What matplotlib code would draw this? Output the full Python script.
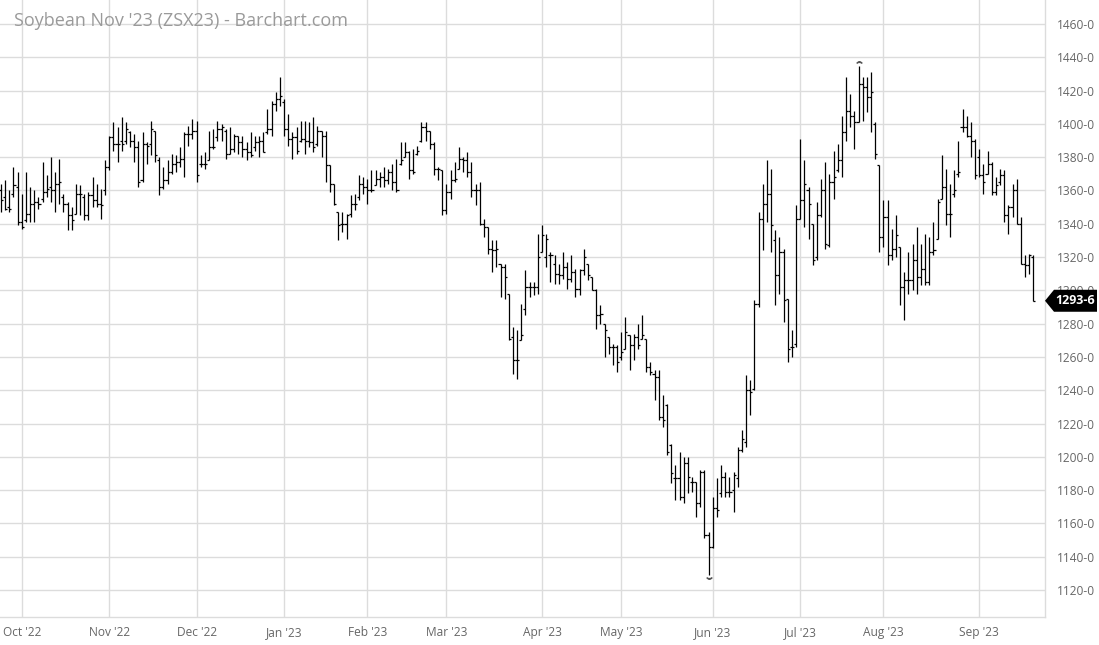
import matplotlib
matplotlib.use("Agg")
import matplotlib.pyplot as plt
from matplotlib.patches import Polygon
from matplotlib.transforms import IdentityTransform
import numpy as np

title = "Soybean Nov '23 (ZSX23) - Barchart.com"
month_labels = ["Oct '22", "Nov '22", "Dec '22", "Jan '23", "Feb '23", "Mar '23",
                "Apr '23", "May '23", "Jun '23", "Jul '23", "Aug '23", "Sep '23"]
month_start_idx = [5, 26, 47, 68, 88, 107, 130, 149, 171, 192, 212, 235]
y_ticks = list(range(1120, 1461, 20))
last_label = "1293-6"

opens = [
    1360, 1356, 1350, 1358, 1362,
    1341, 1342, 1346, 1352, 1353, 1355, 1359, 1362, 1360, 1364, 1356, 1352, 1345, 1346, 1358, 1356, 1345, 1357, 1354, 1352, 1360,
    1374, 1392, 1388, 1390, 1390, 1395, 1390, 1386, 1366, 1388, 1388, 1396, 1378, 1362, 1366, 1371, 1376, 1377, 1379, 1394, 1394,
    1396, 1376, 1376, 1378, 1386, 1392, 1397, 1396, 1382, 1385, 1393, 1389, 1385, 1383, 1386, 1389, 1390, 1395, 1397, 1412, 1415,
    1413, 1397, 1391, 1392, 1390, 1391, 1390, 1389, 1388, 1396, 1393, 1375, 1364, 1347, 1340, 1340, 1346, 1352, 1356, 1364,
    1362, 1360, 1363, 1367, 1368, 1366, 1371, 1365, 1376, 1380, 1383, 1372, 1382, 1390, 1398, 1396, 1388, 1373, 1372,
    1348, 1359, 1366, 1373, 1379, 1378, 1371, 1360, 1360, 1340, 1338, 1325, 1324, 1316, 1314, 1298, 1272, 1258, 1270, 1289, 1302, 1302, 1302,
    1323, 1320, 1321, 1316, 1310, 1309, 1314, 1307, 1311, 1301, 1312, 1316, 1308, 1300, 1285, 1280, 1272, 1266, 1266,
    1260, 1265, 1273, 1267, 1272, 1271, 1271, 1254, 1250, 1248, 1224, 1231, 1207, 1187, 1187, 1176, 1196, 1185, 1185, 1172, 1191, 1153,
    1146, 1169, 1178, 1188, 1179, 1180, 1187, 1204, 1209, 1240, 1241, 1292, 1343, 1352, 1358, 1330, 1309, 1323, 1295, 1266, 1268,
    1343, 1354, 1360, 1340, 1320, 1345, 1360, 1327, 1365, 1372, 1378, 1395, 1408, 1405, 1401, 1424, 1422, 1416, 1400, 1375,
    1332, 1344, 1321, 1325, 1326, 1302, 1306, 1306, 1318, 1308, 1313, 1305, 1323, 1331, 1355, 1362, 1346, 1358, 1370, 1398, 1398, 1393, 1390,
    1380, 1369, 1370, 1376, 1359, 1365, 1369, 1345, 1350, 1360, 1340, 1316, 1315, 1320,
]
highs = [
    1364, 1366, 1360, 1374, 1371,
    1358, 1371, 1362, 1360, 1356, 1377, 1369, 1380, 1371, 1379, 1358, 1353, 1350, 1364, 1363, 1358, 1359, 1368, 1364, 1361, 1378,
    1393, 1401, 1398, 1404, 1401, 1396, 1394, 1390, 1395, 1389, 1402, 1396, 1380, 1374, 1378, 1382, 1381, 1386, 1395, 1399, 1403,
    1402, 1381, 1383, 1396, 1397, 1402, 1400, 1397, 1398, 1394, 1393, 1393, 1389, 1395, 1393, 1393, 1395, 1409, 1414, 1419, 1428,
    1415, 1406, 1395, 1398, 1402, 1402, 1401, 1404, 1399, 1396, 1396, 1375, 1364, 1347, 1347, 1346, 1357, 1358, 1369, 1368,
    1367, 1372, 1372, 1371, 1374, 1373, 1376, 1379, 1389, 1389, 1384, 1385, 1387, 1401, 1401, 1396, 1389, 1374, 1372,
    1364, 1372, 1377, 1386, 1380, 1383, 1377, 1364, 1365, 1343, 1338, 1330, 1330, 1316, 1316, 1298, 1278, 1276, 1292, 1312, 1305, 1305, 1334,
    1339, 1334, 1323, 1321, 1316, 1323, 1317, 1321, 1313, 1313, 1325, 1316, 1308, 1301, 1291, 1280, 1272, 1268, 1267,
    1275, 1284, 1273, 1274, 1280, 1285, 1271, 1257, 1252, 1252, 1237, 1232, 1208, 1195, 1203, 1200, 1200, 1188, 1185, 1192, 1192, 1155,
    1176, 1187, 1195, 1191, 1188, 1191, 1206, 1216, 1249, 1246, 1294, 1347, 1364, 1378, 1373, 1336, 1332, 1325, 1295, 1276, 1351,
    1391, 1378, 1362, 1340, 1353, 1367, 1377, 1370, 1384, 1388, 1405, 1428, 1418, 1408, 1435, 1428, 1428, 1431, 1401, 1375,
    1354, 1354, 1337, 1345, 1326, 1311, 1323, 1328, 1338, 1328, 1334, 1332, 1341, 1355, 1381, 1373, 1364, 1372, 1390, 1409, 1405, 1401, 1391,
    1385, 1376, 1384, 1377, 1368, 1373, 1372, 1351, 1364, 1367, 1344, 1321, 1322, 1321,
]
lows = [
    1347, 1348, 1347, 1356, 1339,
    1337, 1341, 1341, 1341, 1349, 1353, 1356, 1353, 1347, 1352, 1347, 1336, 1336, 1346, 1345, 1342, 1342, 1350, 1350, 1343, 1357,
    1372, 1384, 1377, 1384, 1388, 1386, 1377, 1362, 1365, 1376, 1381, 1377, 1357, 1361, 1364, 1370, 1371, 1374, 1368, 1387, 1391,
    1365, 1374, 1373, 1378, 1385, 1390, 1390, 1379, 1382, 1383, 1382, 1380, 1378, 1380, 1384, 1380, 1383, 1394, 1393, 1408, 1411,
    1393, 1387, 1379, 1382, 1389, 1382, 1386, 1383, 1387, 1380, 1365, 1359, 1351, 1330, 1335, 1331, 1344, 1348, 1354, 1358,
    1352, 1359, 1363, 1362, 1362, 1364, 1360, 1359, 1375, 1380, 1367, 1370, 1381, 1389, 1390, 1385, 1369, 1366, 1345,
    1346, 1355, 1365, 1373, 1371, 1368, 1356, 1351, 1339, 1332, 1322, 1311, 1314, 1296, 1295, 1270, 1250, 1247, 1270, 1285, 1296, 1297, 1298,
    1323, 1314, 1305, 1304, 1304, 1307, 1301, 1305, 1296, 1297, 1309, 1306, 1300, 1277, 1280, 1260, 1262, 1255, 1251,
    1258, 1265, 1252, 1258, 1265, 1271, 1251, 1249, 1234, 1222, 1218, 1201, 1184, 1174, 1174, 1172, 1178, 1179, 1164, 1170, 1151, 1129,
    1145, 1164, 1176, 1176, 1176, 1167, 1182, 1203, 1206, 1225, 1240, 1290, 1324, 1341, 1323, 1291, 1298, 1281, 1257, 1260, 1266,
    1343, 1338, 1331, 1315, 1318, 1344, 1325, 1326, 1355, 1371, 1368, 1390, 1398, 1385, 1401, 1402, 1407, 1395, 1379, 1323,
    1326, 1315, 1318, 1320, 1291, 1282, 1298, 1300, 1298, 1303, 1303, 1303, 1321, 1331, 1355, 1339, 1332, 1356, 1368, 1395, 1392, 1380, 1367,
    1368, 1358, 1370, 1357, 1357, 1363, 1341, 1334, 1344, 1340, 1316, 1308, 1310, 1293.75,
]
closes = [
    1354, 1349, 1349, 1363, 1341,
    1338, 1346, 1352, 1353, 1352, 1359, 1361, 1360, 1364, 1365, 1352, 1345, 1342, 1358, 1358, 1345, 1357, 1354, 1352, 1351, 1374,
    1392, 1388, 1388, 1388, 1397, 1390, 1386, 1365, 1388, 1387, 1397, 1381, 1362, 1366, 1371, 1376, 1377, 1379, 1394, 1394, 1396,
    1369, 1376, 1376, 1386, 1386, 1397, 1398, 1382, 1385, 1393, 1389, 1385, 1383, 1381, 1389, 1390, 1383, 1397, 1412, 1415, 1417,
    1397, 1391, 1392, 1384, 1391, 1390, 1389, 1386, 1396, 1393, 1375, 1364, 1352, 1339, 1340, 1345, 1352, 1352, 1364, 1362,
    1360, 1360, 1367, 1368, 1366, 1371, 1365, 1360, 1378, 1383, 1372, 1371, 1384, 1398, 1396, 1388, 1373, 1373, 1348,
    1359, 1366, 1367, 1379, 1378, 1371, 1360, 1360, 1340, 1338, 1325, 1324, 1325, 1314, 1308, 1271, 1258, 1258, 1273, 1302, 1302, 1302, 1320,
    1333, 1331, 1321, 1310, 1309, 1314, 1307, 1311, 1301, 1312, 1320, 1309, 1300, 1285, 1286, 1276, 1266, 1266, 1257,
    1263, 1275, 1267, 1272, 1267, 1273, 1254, 1251, 1248, 1224, 1222, 1203, 1190, 1187, 1176, 1196, 1188, 1185, 1172, 1191, 1153, 1146,
    1169, 1168, 1188, 1179, 1179, 1189, 1204, 1211, 1240, 1239, 1292, 1343, 1352, 1358, 1339, 1309, 1323, 1294, 1265, 1266, 1343,
    1354, 1364, 1352, 1318, 1345, 1360, 1328, 1365, 1368, 1378, 1395, 1408, 1405, 1401, 1424, 1422, 1416, 1419, 1382, 1332,
    1344, 1321, 1325, 1333, 1302, 1306, 1306, 1318, 1308, 1313, 1305, 1323, 1324, 1353, 1362, 1346, 1346, 1360, 1371, 1398, 1393, 1390, 1369,
    1369, 1365, 1376, 1359, 1363, 1369, 1345, 1350, 1360, 1340, 1316, 1315, 1321, 1293.75,
]

W, H = 1099, 645
FONT = ["Open Sans", "DejaVu Sans"]
plt.rcParams["font.family"] = FONT

fig = plt.figure(figsize=(W / 100, H / 100), dpi=100)
fig.patch.set_facecolor("white")
ax = fig.add_axes([0, 28 / H, 1045 / W, 617 / H])
ax.set_facecolor("white")

x = np.arange(len(closes))
ax.set_xlim(-0.24, 250.8)
ax.set_ylim(1103.8, 1474.4)

# grid
ax.set_xticks(month_start_idx)
ax.set_xticklabels(month_labels)
ax.set_yticks(y_ticks)
ax.set_yticklabels([f"{v}-0" for v in y_ticks])
ax.yaxis.tick_right()
ax.grid(True, color="#dcdcdc", linewidth=1.0)
ax.set_axisbelow(True)
ax.tick_params(axis="both", length=0, labelsize=8.6, labelcolor="#666666")
ax.tick_params(axis="x", pad=6.5)
ax.tick_params(axis="y", pad=8.5)
for s in ["top", "left"]:
    ax.spines[s].set_visible(False)
for s in ["right", "bottom"]:
    ax.spines[s].set_color("#dcdcdc")
    ax.spines[s].set_linewidth(1.0)

# OHLC bars
tick = 0.5
lw = 0.9
ax.vlines(x, lows, highs, color="black", linewidth=lw, zorder=3)
ax.hlines(opens, x - tick, x, color="black", linewidth=lw, zorder=3)
ax.hlines(closes, x, x + tick, color="black", linewidth=lw, zorder=3)

# high / low markers
i_hi = int(np.argmax(highs))
i_lo = int(np.argmin(lows))
ax.plot([i_hi], [highs[i_hi] + 2.0], marker=r"$\frown$", ms=3.5, color="#555555",
        linestyle="none", zorder=4)
ax.plot([i_lo], [lows[i_lo] - 2.0], marker=r"$\smile$", ms=3.5, color="#555555",
        linestyle="none", zorder=4)

# title
fig.text(14 / W, 1 - 21 / H, title, va="center", ha="left", color="#9a9a9a",
         fontsize=13)

# last price label
fig.canvas.draw()
yd = ax.transData.transform((0, closes[-1]))[1]
xr = ax.transAxes.transform((1, 0))[0]
poly = Polygon([[xr, yd], [xr + 9, yd + 11], [1097, yd + 11], [1097, yd - 11], [xr + 9, yd - 11]],
               closed=True, facecolor="black", edgecolor="none", transform=IdentityTransform(), zorder=10)
fig.add_artist(poly)
fig.text(1075.5 / W, yd / H, last_label, transform=fig.transFigure, ha="center", va="center",
         color="white", fontsize=9, fontweight="bold", zorder=11)

fig.savefig("out.png", dpi=100, facecolor="white")
